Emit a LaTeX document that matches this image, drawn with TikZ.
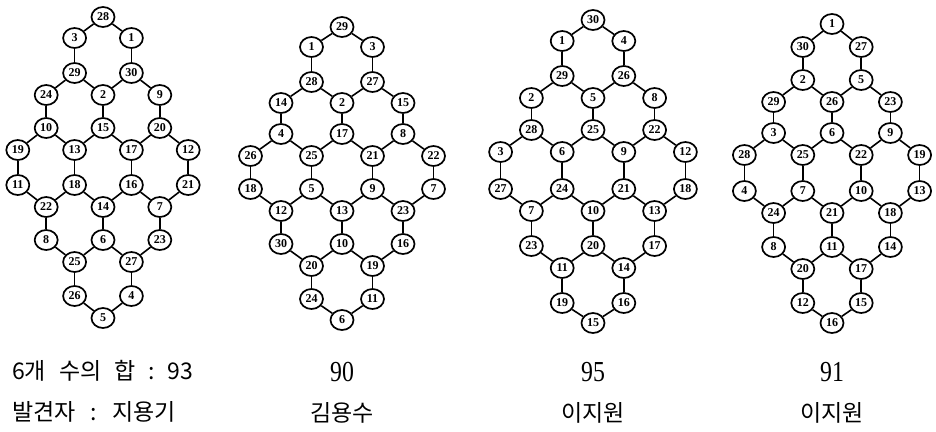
\documentclass[tikz,border=0pt]{standalone}
\usepackage{fontspec}
\usepackage{graphicx}
\setmainfont{Liberation Serif}
\newfontfamily\krfont{Noto Sans CJK KR}
\usetikzlibrary{shapes.geometric}

\tikzset{
  num/.style={ellipse, draw, line width=1.7pt, fill=white,
    minimum width=23pt, minimum height=20pt, inner sep=0pt,
    font=\fontsize{12}{12}\selectfont\bfseries},
  link/.style={line width=1.6pt},
  krcap/.style={inner sep=0pt, font=\krfont\fontsize{23}{25}\selectfont},
  sumcap/.style={inner sep=0pt, font=\fontsize{29}{30}\selectfont}
}

\newcommand\gap{\hspace{13pt}}
\newcommand\narrow[1]{\scalebox{0.82}[1]{#1}}

% #1 prefix, #2 centre x, #3 column step, #4 row heights, #5 column/row/label list
\newcommand\hexlattice[5]{%
  \foreach \cc/\rr/\lab in {#5} {
    \pgfmathsetmacro\px{#2+(\cc-3)*#3}
    \pgfmathsetmacro\py{{#4}[\rr]}
    \node[num] (#1-\cc-\rr) at (\px,\py) {\lab};
  }
  \foreach \p/\q in {
      3-0/2-1, 3-0/4-1, 2-1/2-2, 4-1/4-2,
      2-2/1-3, 2-2/3-3, 4-2/3-3, 4-2/5-3,
      1-3/1-4, 3-3/3-4, 5-3/5-4,
      1-4/0-5, 1-4/2-5, 3-4/2-5, 3-4/4-5, 5-4/4-5, 5-4/6-5,
      0-5/0-6, 2-5/2-6, 4-5/4-6, 6-5/6-6,
      0-6/1-7, 2-6/1-7, 2-6/3-7, 4-6/3-7, 4-6/5-7, 6-6/5-7,
      1-7/1-8, 3-7/3-8, 5-7/5-8,
      1-8/2-9, 3-8/2-9, 3-8/4-9, 5-8/4-9,
      2-9/2-10, 4-9/4-10,
      2-10/3-11, 4-10/3-11} {
    \draw[link] (#1-\p) -- (#1-\q);
  }%
}

\begin{document}
\begin{tikzpicture}[x=1pt, y=-1pt]
\useasboundingbox (0,0) rectangle (936,431);

\hexlattice{A}{103}{28.4}{17,38,73,95,128,150,185,207,240,262,296,318}{
  3/0/28, 2/1/3, 4/1/1, 2/2/29, 4/2/30, 1/3/24, 3/3/2, 5/3/9,
  1/4/10, 3/4/15, 5/4/20, 0/5/19, 2/5/13, 4/5/17, 6/5/12,
  0/6/11, 2/6/18, 4/6/16, 6/6/21, 1/7/22, 3/7/14, 5/7/7,
  1/8/8, 3/8/6, 5/8/23, 2/9/25, 4/9/27, 2/10/26, 4/10/4, 3/11/5}

\hexlattice{B}{342}{30.5}{27,47,82,103,134,156,189,211,244,266,299,320}{
  3/0/29, 2/1/1, 4/1/3, 2/2/28, 4/2/27, 1/3/14, 3/3/2, 5/3/15,
  1/4/4, 3/4/17, 5/4/8, 0/5/26, 2/5/25, 4/5/21, 6/5/22,
  0/6/18, 2/6/5, 4/6/9, 6/6/7, 1/7/12, 3/7/13, 5/7/23,
  1/8/30, 3/8/10, 5/8/16, 2/9/20, 4/9/19, 2/10/24, 4/10/11, 3/11/6}

\hexlattice{C}{593}{30.8}{20,41,76,98,130,152,189,211,246,268,303,323}{
  3/0/30, 2/1/1, 4/1/4, 2/2/29, 4/2/26, 1/3/2, 3/3/5, 5/3/8,
  1/4/28, 3/4/25, 5/4/22, 0/5/3, 2/5/6, 4/5/9, 6/5/12,
  0/6/27, 2/6/24, 4/6/21, 6/6/18, 1/7/7, 3/7/10, 5/7/13,
  1/8/23, 3/8/20, 5/8/17, 2/9/11, 4/9/14, 2/10/19, 4/10/16, 3/11/15}

\hexlattice{D}{832}{29.2}{24,47,80,102,133,155,191,213,247,269,303,323}{
  3/0/1, 2/1/30, 4/1/27, 2/2/2, 4/2/5, 1/3/29, 3/3/26, 5/3/23,
  1/4/3, 3/4/6, 5/4/9, 0/5/28, 2/5/25, 4/5/22, 6/5/19,
  0/6/4, 2/6/7, 4/6/10, 6/6/13, 1/7/24, 3/7/21, 5/7/18,
  1/8/8, 3/8/11, 5/8/14, 2/9/20, 4/9/17, 2/10/12, 4/10/15, 3/11/16}

% sums of the six numbers on each hexagon, and who found each arrangement
\node[krcap, anchor=west] (sumA) at (12,371) {6개\gap 수의\gap 합\gap :\gap 93};
\node[sumcap] (sumB) at (342,372) {\narrow{90}};
\node[sumcap] (sumC) at (593,372) {\narrow{95}};
\node[sumcap] (sumD) at (832,372) {\narrow{91}};
\node[krcap, anchor=west] (whoA) at (12,412) {발견자\hspace{15pt}:\hspace{15pt}지용기};
\node[krcap] (whoB) at (342,413) {김용수};
\node[krcap] (whoC) at (593,413) {이지원};
\node[krcap] (whoD) at (832,413) {이지원};
\end{tikzpicture}
\end{document}
